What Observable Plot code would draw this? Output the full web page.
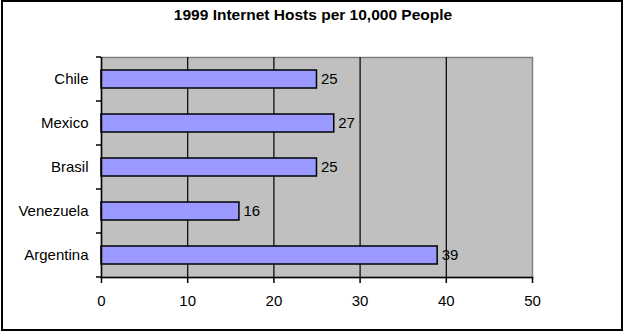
<!DOCTYPE html>
<html>
<head>
<meta charset="utf-8">
<script src="https://cdn.jsdelivr.net/npm/d3@7"></script>
<script src="https://cdn.jsdelivr.net/npm/@observablehq/plot@0.6"></script>
<style>
  html, body { margin: 0; padding: 0; background: #fff; }
  #wrap { position: relative; width: 626px; height: 331px; overflow: hidden; }
  #border { position: absolute; left: 1px; top: 0px; width: 622px; height: 331px; box-sizing: border-box; border: 2px solid #000; pointer-events: none; }
</style>
</head>
<body>
<div id="wrap"><div id="border"></div></div>
<script>
const title = "1999 Internet Hosts per 10,000 People";
const countries = ["Chile", "Mexico", "Brasil", "Venezuela", "Argentina"];
const hosts = [25, 27, 25, 16, 39];
const xTicks = [0, 10, 20, 30, 40, 50];
const gridTicks = [10, 20, 30, 40];

const data = countries.map((c, i) => ({country: c, value: hosts[i]}));
const font = "'Liberation Sans', Arial, sans-serif";

const chart = Plot.plot({
  width: 626,
  height: 331,
  marginLeft: 101,
  marginRight: 94,
  marginTop: 57,
  marginBottom: 54,
  style: {fontFamily: font, fontSize: "15px", color: "#000", background: "transparent", overflow: "visible"},
  x: {domain: [0, 50], ticks: xTicks, label: null},
  y: {domain: countries, paddingInner: 0.6, paddingOuter: 0.3, label: null},
  marks: [
    Plot.frame({fill: "#c0c0c0", stroke: "#808080", strokeWidth: 1.5}),
    Plot.ruleX(gridTicks, {stroke: "#000", strokeWidth: 1.2}),
    Plot.barX(data, {x: "value", y: "country", fill: "#9999ff", stroke: "#000", strokeWidth: 1.5}),
    Plot.text(data, {x: "value", y: "country", text: d => String(d.value), textAnchor: "start", dx: 4, fill: "#000", fontSize: 15}),
    Plot.ruleX([0], {stroke: "#000", strokeWidth: 1.5}),
    Plot.frame({anchor: "bottom", stroke: "#000", strokeWidth: 1.5}),
    Plot.axisX({ticks: xTicks, tickSize: 6, tickPadding: 12, tickFormat: d => String(d), label: null, stroke: "#000", strokeWidth: 1.5, fontSize: 15}),
    Plot.axisY({tickSize: 0, tickPadding: 13, label: null, fontSize: 15}),
    Plot.text([title], {frameAnchor: "top", lineAnchor: "middle", dy: -42, dx: -4, text: d => d, fontWeight: "bold", fontSize: 15.5, fill: "#000"})
  ]
});

// category-axis ticks between categories (Excel style), positioned from Plot's y scale
const ys = chart.scale("y");
const xs = chart.scale("x");
const x0 = xs.apply(0);
const step = ys.step !== undefined ? ys.step : ys.bandwidth / (1 - 0.6);
const gap = (step - ys.bandwidth) / 2;
const bounds = countries.map(c => ys.apply(c) - gap);
bounds.push(ys.apply(countries[countries.length - 1]) + ys.bandwidth + gap);
const g = d3.select(chart).append("g").attr("stroke", "#000").attr("stroke-width", 1.5);
bounds.forEach(b => {
  g.append("line").attr("x1", x0 - 5).attr("x2", x0).attr("y1", b).attr("y2", b);
});

document.getElementById("wrap").insertBefore(chart, document.getElementById("border"));
</script>
</body>
</html>
